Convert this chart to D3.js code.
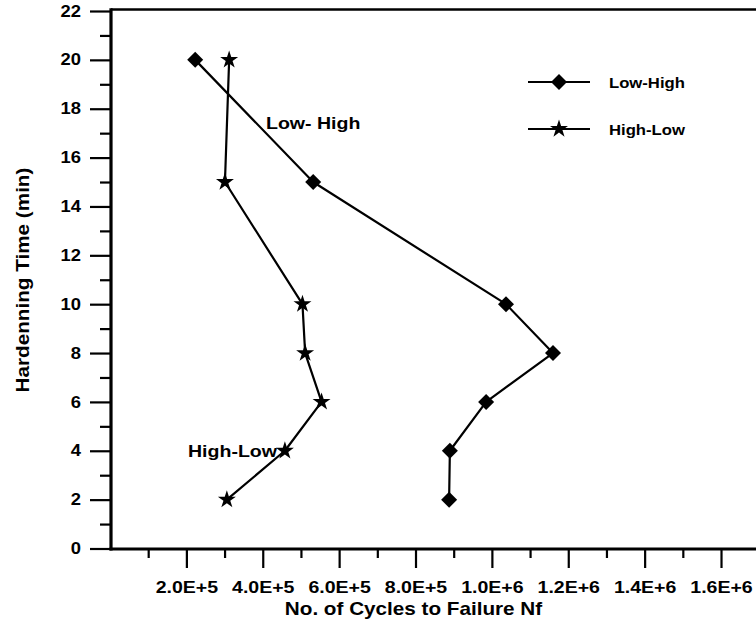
<!DOCTYPE html>
<html>
<head>
<meta charset="utf-8">
<script src="https://cdn.jsdelivr.net/npm/d3@7"></script>
<style>
body { margin: 0; background: #fff; }
svg { display: block; font-family: "Liberation Sans", Arial, sans-serif; font-weight: bold; }
</style>
</head>
<body>
<svg id="chart" width="756" height="625"></svg>
<script>
// hardening time (min) and cycles to failure for each sequence
var hours = [20, 15, 10, 8, 6, 4, 2];
var lowHigh = [2.23e5, 5.32e5, 1.037e6, 1.16e6, 9.85e5, 8.9e5, 8.88e5];
var highLow = [3.12e5, 3.01e5, 5.04e5, 5.11e5, 5.54e5, 4.58e5, 3.06e5];
var seriesNames = ["Low-High", "High-Low"];

var xTicks = [2e5, 4e5, 6e5, 8e5, 1e6, 1.2e6, 1.4e6, 1.6e6];
var xTickLabels = ["2.0E+5", "4.0E+5", "6.0E+5", "8.0E+5", "1.0E+6", "1.2E+6", "1.4E+6", "1.6E+6"];
var xMinor = [1e5, 3e5, 5e5, 7e5, 9e5, 1.1e6, 1.3e6, 1.5e6, 1.7e6];
var yTicks = [0, 2, 4, 6, 8, 10, 12, 14, 16, 18, 20, 22];
var yMinor = [1, 3, 5, 7, 9, 11, 13, 15, 17, 19, 21];

var svg = d3.select("#chart");
var sx = 1.15; // the original lettering is a bit wider than Arial

var x = d3.scaleLinear().domain([0, 1.7e6]).range([110, 759.2]);
var y = d3.scaleLinear().domain([0, 22]).range([548.5, 11]);

var axisX = 111, axisY = 549;

// y axis
var gy = svg.append("g").attr("transform", "translate(" + axisX + ",0)");
gy.call(d3.axisLeft(y).tickValues(yTicks).tickSize(21).tickPadding(9));
gy.append("g").call(d3.axisLeft(y).tickValues(yMinor).tickSize(11).tickFormat(""));
gy.selectAll(".domain").remove();
gy.selectAll("line").attr("stroke", "#000").attr("stroke-width", 2.2);
gy.selectAll("text")
    .attr("fill", "#000")
    .style("font-size", "16px")
    .attr("x", -30 / sx)
    .attr("transform", "scale(" + sx + ",1)");

// x axis
var gx = svg.append("g").attr("transform", "translate(0," + axisY + ")");
gx.call(d3.axisBottom(x).tickValues(xTicks).tickSize(19)
    .tickFormat(function(d, i) { return xTickLabels[i]; }));
gx.append("g").call(d3.axisBottom(x).tickValues(xMinor).tickSize(9).tickFormat(""));
gx.selectAll(".domain").remove();
gx.selectAll("line").attr("stroke", "#000").attr("stroke-width", 2.2);
gx.selectAll("text")
    .attr("fill", "#000")
    .style("font-size", "17px")
    .attr("y", 44)
    .attr("dy", 0)
    .attr("transform", "scale(" + sx + ",1)")
    .attr("x", 0);
// scale around each tick: the tick group is already translated, so x=0 stays put

// frame: left, bottom, top
var topY = y(22) - 1.5;
svg.append("line").attr("x1", axisX).attr("x2", axisX).attr("y1", topY - 1.2).attr("y2", axisY + 1.5)
    .attr("stroke", "#000").attr("stroke-width", 3.2);
svg.append("line").attr("x1", axisX - 1.5).attr("x2", 756).attr("y1", axisY).attr("y2", axisY)
    .attr("stroke", "#000").attr("stroke-width", 3.2);
svg.append("line").attr("x1", axisX).attr("x2", 756).attr("y1", topY).attr("y2", topY)
    .attr("stroke", "#000").attr("stroke-width", 2.5);

// series
var line = d3.line().x(function(d) { return x(d.v); }).y(function(d) { return y(d.h); });
var diamond = d3.symbol().type(d3.symbolSquare).size(128);
var star = d3.symbol().type(d3.symbolStar).size(100);

function drawSeries(values, sym, rot) {
    var data = hours.map(function(h, i) { return { h: h, v: values[i] }; });
    svg.append("path").datum(data)
        .attr("fill", "none").attr("stroke", "#000").attr("stroke-width", 2.2)
        .attr("stroke-linejoin", "round")
        .attr("d", line);
    svg.append("g").selectAll("path").data(data).join("path")
        .attr("d", sym)
        .attr("fill", "#000")
        .attr("transform", function(d) {
            return "translate(" + x(d.v) + "," + y(d.h) + ") rotate(" + rot + ")";
        });
}
drawSeries(lowHigh, diamond, 45);
drawSeries(highLow, star, 0);

function label(px, py, str, size, anchor, extra) {
    return svg.append("text")
        .attr("transform", "translate(" + px + "," + py + ")" + (extra || "") + " scale(" + sx + ",1)")
        .attr("text-anchor", anchor)
        .style("font-size", size + "px")
        .attr("fill", "#000")
        .text(str);
}

// in-plot annotations
label(266, 129, "Low- High", 17, "start");
label(188, 457, "High-Low", 17, "start");

// legend
var legend = [
    { name: seriesNames[0], sym: diamond, rot: 45, y: 82 },
    { name: seriesNames[1], sym: star, rot: 0, y: 129 }
];
legend.forEach(function(d) {
    svg.append("line").attr("x1", 528).attr("x2", 590).attr("y1", d.y).attr("y2", d.y)
        .attr("stroke", "#000").attr("stroke-width", 2.2);
    svg.append("path").attr("d", d.sym).attr("fill", "#000")
        .attr("transform", "translate(559," + d.y + ") rotate(" + d.rot + ")");
    label(609, d.y + 5.5, d.name, 14.5, "start");
});

// axis titles
label(413.5, 615, "No. of Cycles to Failure Nf", 18, "middle");
label(29, 280, "Hardenning Time (min)", 18, "middle", " rotate(-90)");
</script>
</body>
</html>
